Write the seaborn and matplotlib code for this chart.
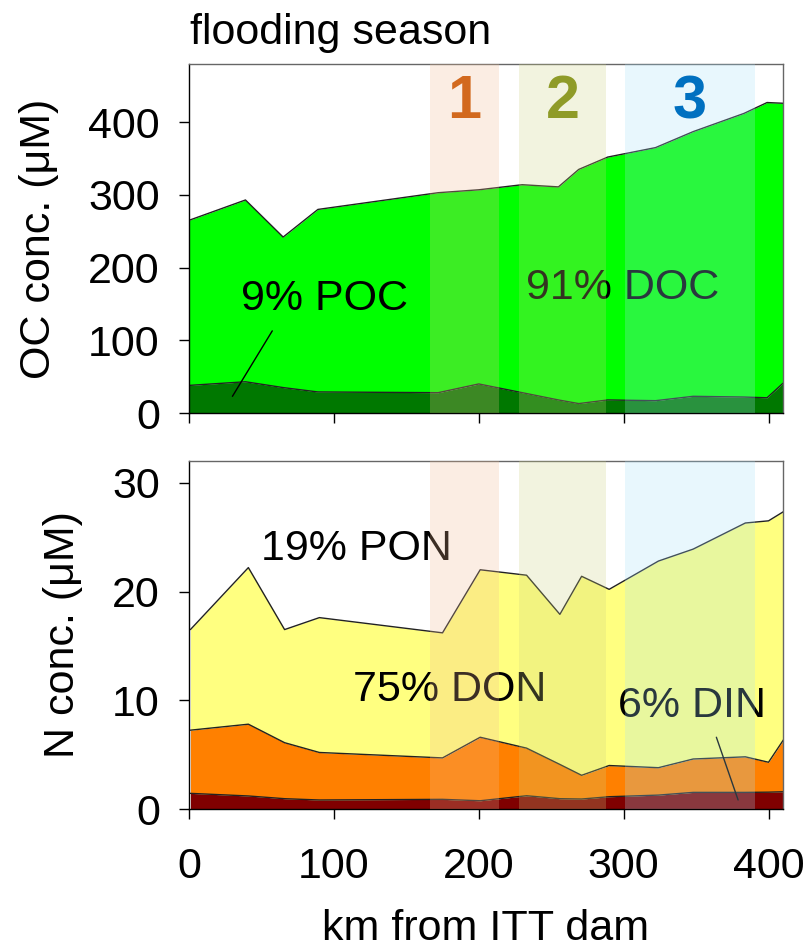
import matplotlib
matplotlib.use('Agg')
import matplotlib.pyplot as plt
import seaborn as sns

# station positions (km from ITT dam)
km_oc = [0, 39, 65, 89, 172, 200, 230, 255, 269, 289, 322, 348, 383, 399, 410]
oc_total = [265, 293, 242, 280, 303, 307, 314, 311, 335, 352, 365, 387, 412, 427, 426]
poc = [38, 43, 35, 29, 28, 40, 28, 18, 13, 18, 17, 23, 22, 21, 41]

km_n = [1, 41, 66, 90, 175, 201, 233, 256, 271, 290, 324, 348, 384, 400, 411]
n_total = [16.5, 22.2, 16.5, 17.6, 16.2, 22.0, 21.5, 17.9, 21.4, 20.2, 22.8, 23.9, 26.3, 26.5, 27.4]
pon_top = [7.25, 7.8, 6.1, 5.2, 4.7, 6.6, 5.6, 4.1, 3.1, 4.0, 3.8, 4.6, 4.8, 4.3, 6.5]
din = [1.44, 1.2, 0.95, 0.83, 0.89, 0.76, 1.22, 0.95, 0.92, 1.13, 1.28, 1.53, 1.53, 1.55, 1.59]

# river sections
sections = ['1', '2', '3']
sec_start = [166.5, 228, 301]
sec_end = [214, 287.5, 390.5]
sec_fill = ['#F0BB93', '#CFD383', '#A5E0FA']
sec_text = ['#D2691E', '#8F9B28', '#0070C0']

sns.set_theme(style='ticks')
plt.rcParams['font.family'] = ['Liberation Sans', 'DejaVu Sans']
plt.rcParams.update({'text.color': 'black', 'axes.labelcolor': 'black',
                     'xtick.color': 'black', 'ytick.color': 'black'})
FS = 31

fig = plt.figure(figsize=(8.11, 9.48), dpi=100)
ax1 = fig.add_axes([0.233, 0.5643, 0.7325, 0.3682])
ax2 = fig.add_axes([0.233, 0.1466, 0.7325, 0.3671])

# ---- top panel: organic carbon
ax1.fill_between(km_oc, 0, poc, color='#007800', lw=0, zorder=1)
ax1.fill_between(km_oc, poc, oc_total, color='#00FF00', lw=0, zorder=1)
sns.lineplot(x=km_oc, y=oc_total, color='#222222', lw=1, ax=ax1, zorder=1.5)
sns.lineplot(x=km_oc, y=poc, color='#222222', lw=1, ax=ax1, zorder=1.5)
ax1.text(36, 157, '9% POC', fontsize=FS, ha='left', va='center', zorder=2)
ax1.plot([57.5, 30], [113, 23], color='black', lw=1, zorder=2)
ax1.text(299, 172, '91% DOC', fontsize=FS, ha='center', va='center', zorder=2)

# ---- bottom panel: nitrogen
ax2.fill_between(km_n, 0, din, color='#800000', lw=0, zorder=1)
ax2.fill_between(km_n, din, pon_top, color='#FF8000', lw=0, zorder=1)
ax2.fill_between(km_n, pon_top, n_total, color='#FFFF80', lw=0, zorder=1)
for yy in [n_total, pon_top, din]:
    sns.lineplot(x=km_n, y=yy, color='#222222', lw=1, ax=ax2, zorder=1.5)
ax2.text(50, 23.9, '19% PON', fontsize=FS, ha='left', va='center', zorder=2)
ax2.text(113, 10.9, '75% DON', fontsize=FS, ha='left', va='center', zorder=2)
ax2.text(347, 9.5, '6% DIN', fontsize=FS, ha='center', va='center', zorder=2)
ax2.plot([364, 379], [6.6, 0.83], color='black', lw=1, zorder=2)

for ax in (ax1, ax2):
    for s, e, c in zip(sec_start, sec_end, sec_fill):
        ax.axvspan(s, e, color=c, alpha=0.25, lw=0, zorder=3)
    ax.set_xlim(0, 410)
    ax.set_xticks([0, 100, 200, 300, 400])
    ax.tick_params(axis='both', labelsize=FS, direction='out', length=7, width=1,
                   color='black')
    ax.tick_params(axis='y', pad=14)
    ax.tick_params(axis='x', pad=20)
    for sp in ['left', 'bottom']:
        ax.spines[sp].set_color('black')
        ax.spines[sp].set_linewidth(1)
    for sp in ['top', 'right']:
        ax.spines[sp].set_visible(True)
        ax.spines[sp].set_color('#666666')
        ax.spines[sp].set_linewidth(1)

for name, s, e, c in zip(sections, sec_start, sec_end, sec_text):
    ax1.text((s + e) / 2, 427, name, fontsize=44, fontweight='bold', color=c,
             ha='center', va='center', zorder=4)

ax1.set_ylim(0, 480)
ax1.set_yticks([0, 100, 200, 300, 400])
ax1.set_xticklabels([])
ax1.set_ylabel('OC conc. (\u03bcM)', fontsize=FS, labelpad=21)

ax2.set_ylim(0, 32)
ax2.set_yticks([0, 10, 20, 30])
ax2.set_ylabel('N conc. (\u03bcM)', fontsize=FS, labelpad=21)
ax2.set_xlabel('km from ITT dam', fontsize=FS, labelpad=16)

fig.text(190 / 811, 1 - 33 / 948, 'flooding season', fontsize=FS, ha='left', va='center')

fig.savefig('out.png', dpi=100)
